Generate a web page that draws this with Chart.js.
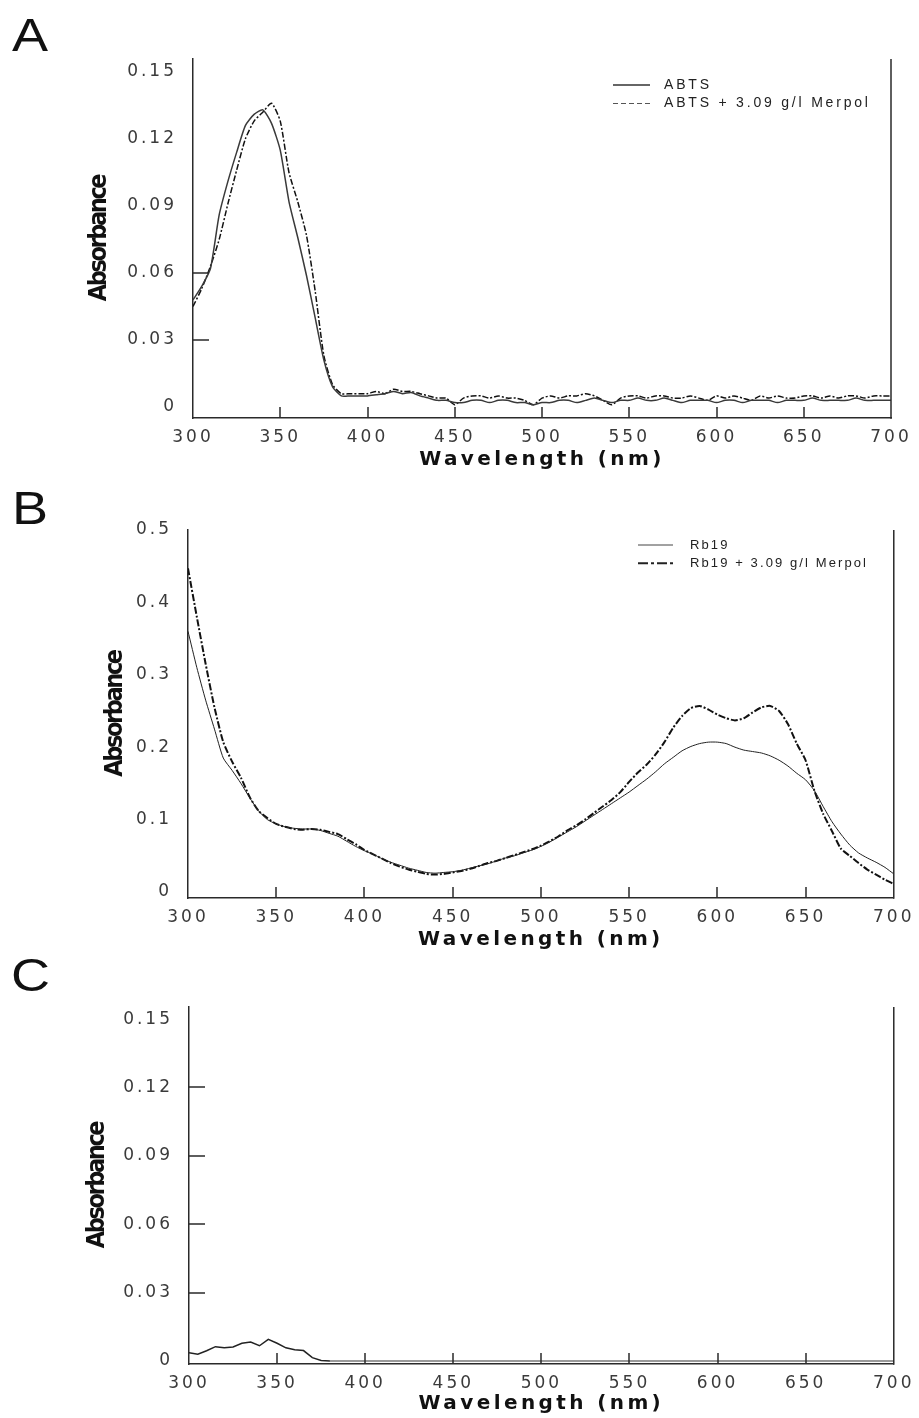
<!DOCTYPE html>
<html>
<head>
<meta charset="utf-8">
<script src="https://cdn.jsdelivr.net/npm/chart.js@4.4.1/dist/chart.umd.min.js"></script>
<style>
html,body{margin:0;padding:0;background:#fff;width:919px;height:1418px;overflow:hidden;}
canvas.panel{position:absolute;left:0;}
.letter{position:absolute;font-family:'Liberation Sans',Arial,sans-serif;font-size:47px;color:#111;line-height:47px;transform:scaleX(1.15);transform-origin:left top;}
</style>
</head>
<body>
<div class="letter" style="left:12px;top:11px">A</div>
<div class="letter" style="left:12px;top:484px">B</div>
<div class="letter" style="left:11px;top:951px">C</div>
<canvas id="cA" class="panel" width="919" height="480" style="top:0px;width:919px;height:480px"></canvas>
<canvas id="cB" class="panel" width="919" height="480" style="top:480px;width:919px;height:480px"></canvas>
<canvas id="cC" class="panel" width="919" height="458" style="top:960px;width:919px;height:458px"></canvas>
<script>
// ---------------- DATA ----------------
const wavelengths = [
  300,305,310,315,320,325,330,335,340,345,
  350,355,360,365,370,375,380,385,390,395,
  400,405,410,415,420,425,430,435,440,445,
  450,455,460,465,470,475,480,485,490,495,
  500,505,510,515,520,525,530,535,540,545,
  550,555,560,565,570,575,580,585,590,595,
  600,605,610,615,620,625,630,635,640,645,
  650,655,660,665,670,675,680,685,690,695,
  700
];

// Panel A
const absABTS = [
  0.048,0.054,0.062,0.086,0.101,0.114,0.126,0.131,0.133,0.127,
  0.115,0.092,0.076,0.059,0.040,0.021,0.009,0.005,0.005,0.005,
  0.005,0.0055,0.006,0.007,0.006,0.0065,0.005,0.004,0.003,0.003,
  0.002,0.002,0.003,0.003,0.002,0.003,0.003,0.002,0.002,0.001,
  0.002,0.002,0.003,0.003,0.002,0.003,0.004,0.003,0.002,0.003,
  0.003,0.004,0.003,0.003,0.004,0.003,0.002,0.003,0.003,0.003,
  0.002,0.003,0.003,0.002,0.003,0.003,0.003,0.002,0.003,0.003,
  0.003,0.004,0.003,0.003,0.003,0.003,0.004,0.003,0.003,0.003,
  0.003
];
const absABTSMerpol = [
  0.045,0.053,0.063,0.075,0.091,0.106,0.120,0.128,0.132,0.136,
  0.128,0.105,0.092,0.077,0.052,0.023,0.010,0.006,0.006,0.006,
  0.006,0.007,0.006,0.008,0.007,0.007,0.006,0.005,0.004,0.004,
  0.001,0.004,0.005,0.005,0.004,0.005,0.004,0.004,0.003,0.001,
  0.004,0.005,0.004,0.005,0.005,0.006,0.005,0.003,0.001,0.004,
  0.005,0.005,0.004,0.005,0.005,0.004,0.004,0.005,0.004,0.003,
  0.005,0.004,0.005,0.004,0.003,0.005,0.004,0.005,0.004,0.004,
  0.005,0.005,0.004,0.005,0.004,0.005,0.005,0.004,0.005,0.005,
  0.005
];

// Panel B
const absRb19 = [
  0.360,0.310,0.265,0.225,0.185,0.168,0.150,0.130,0.112,0.100,
  0.094,0.090,0.088,0.087,0.087,0.085,0.081,0.077,0.070,0.063,
  0.057,0.052,0.046,0.041,0.037,0.033,0.030,0.027,0.026,0.027,
  0.028,0.030,0.033,0.036,0.039,0.043,0.047,0.050,0.054,0.058,
  0.063,0.069,0.076,0.083,0.090,0.098,0.106,0.114,0.122,0.130,
  0.138,0.147,0.156,0.166,0.177,0.186,0.195,0.201,0.205,0.207,
  0.207,0.205,0.200,0.196,0.194,0.192,0.188,0.182,0.174,0.164,
  0.155,0.140,0.118,0.097,0.080,0.065,0.054,0.047,0.041,0.034,
  0.025
];
const absRb19Merpol = [
  0.447,0.380,0.315,0.255,0.207,0.180,0.158,0.131,0.112,0.102,
  0.094,0.090,0.087,0.086,0.087,0.086,0.083,0.080,0.073,0.066,
  0.058,0.052,0.046,0.040,0.035,0.031,0.028,0.025,0.024,0.025,
  0.027,0.029,0.032,0.036,0.040,0.043,0.047,0.051,0.055,0.059,
  0.064,0.070,0.077,0.085,0.092,0.100,0.109,0.118,0.127,0.138,
  0.152,0.165,0.176,0.190,0.207,0.227,0.243,0.254,0.257,0.252,
  0.245,0.240,0.237,0.240,0.248,0.255,0.257,0.250,0.232,0.205,
  0.182,0.140,0.108,0.084,0.060,0.050,0.040,0.031,0.024,0.017,
  0.011
];

// Panel C
const wavelengthsC = [300,305,310,315,320,325,330,335,340,345,350,355,360,365,370,375,380,400,450,500,550,600,650,700];
const absC = [0.0036,0.0030,0.0045,0.0063,0.0058,0.0062,0.0078,0.0083,0.0067,0.0095,0.0078,0.0058,0.0050,0.0046,0.0015,0.0002,0,0,0,0,0,0,0,0];

// Ticks
const xTickValues = [300,350,400,450,500,550,600,650,700];
const xTickLabels = ['300','350','400','450','500','550','600','650','700'];
const yTickValuesAC = [0,0.03,0.06,0.09,0.12,0.15];
const yTickLabelsAC = ['0','0.03','0.06','0.09','0.12','0.15'];
const yTickValuesB = [0,0.1,0.2,0.3,0.4,0.5];
const yTickLabelsB = ['0','0.1','0.2','0.3','0.4','0.5'];

const labelABTS = 'ABTS';
const labelABTSMerpol = 'ABTS + 3.09 g/l Merpol';
const labelRb19 = 'Rb19';
const labelRb19Merpol = 'Rb19 + 3.09 g/l Merpol';
const xTitle = 'Wavelength (nm)';
const yTitle = 'Absorbance';

// ---------------- RENDERING ----------------
Chart.defaults.animation = false;

function pts(xs, ys) { return xs.map((x, i) => ({x: x, y: ys[i]})); }

function patchSpacing(scale, tickSp, titleSp) {
  if (scale.$patched) return;
  scale.$patched = true;
  const dl = scale.drawLabels, dt = scale.drawTitle;
  scale.drawLabels = function (a) { const c = this.ctx; c.save(); c.letterSpacing = tickSp; dl.call(this, a); c.restore(); };
  scale.drawTitle = function (a) { const c = this.ctx; c.save(); c.letterSpacing = titleSp; dt.call(this, a); c.restore(); };
}

const framePlugin = {
  id: 'frame',
  afterDraw(chart, args, o) {
    const ctx = chart.ctx, a = chart.chartArea;
    const xs = chart.scales.x, ys = chart.scales.y;
    ctx.save();
    ctx.lineCap = 'butt';
    ctx.strokeStyle = '#2a2a2a';
    ctx.lineWidth = 1.5;
    ctx.beginPath();
    ctx.moveTo(a.right, a.top); ctx.lineTo(a.right, a.bottom + 0.75);
    ctx.stroke();
    ctx.beginPath();
    (o.xMarks || []).forEach(v => {
      const p = Math.round(xs.getPixelForValue(v));
      ctx.moveTo(p, a.bottom); ctx.lineTo(p, a.bottom - o.xMarkLen);
    });
    (o.yMarks || []).forEach(v => {
      const p = Math.round(ys.getPixelForValue(v));
      ctx.moveTo(a.left, p); ctx.lineTo(a.left + o.yMarkLen, p);
    });
    ctx.stroke();
    if (o.legend) {
      const L = o.legend;
      chart.data.datasets.forEach((ds, i) => {
        if (!ds.label) return;
        const y = L.y + i * L.rowH;
        ctx.beginPath();
        ctx.setLineDash(ds.legendDash || ds.borderDash || []);
        ctx.strokeStyle = ds.legendColor || ds.borderColor;
        ctx.lineWidth = ds.legendWidth || ds.borderWidth;
        ctx.moveTo(L.x0, y); ctx.lineTo(L.x1, y);
        ctx.stroke();
        ctx.setLineDash([]);
        ctx.font = L.font;
        ctx.fillStyle = '#222';
        ctx.textBaseline = 'middle';
        ctx.textAlign = 'left';
        ctx.letterSpacing = L.spacing;
        ctx.fillText(ds.label, L.tx, y);
        ctx.letterSpacing = '0px';
      });
    }
    ctx.restore();
  }
};

function makeChart(id, p) {
  return new Chart(document.getElementById(id), {
    type: 'line',
    data: {datasets: p.datasets},
    plugins: [framePlugin],
    options: {
      responsive: false,
      devicePixelRatio: 1,
      animation: false,
      layout: {padding: {left: 0, top: p.top, right: p.right, bottom: 0}},
      elements: {point: {radius: 0}, line: {tension: p.tension}},
      plugins: {
        legend: {display: false},
        tooltip: {enabled: false},
        frame: {xMarks: p.xMarks, yMarks: p.yMarks, xMarkLen: 11, yMarkLen: 16, legend: p.legend}
      },
      scales: {
        x: {
          type: 'linear', min: 300, max: 700,
          afterBuildTicks: s => { s.ticks = xTickValues.map(v => ({value: v})); },
          afterFit: s => { s.height = p.xH; patchSpacing(s, '3px', '3.4px'); },
          grid: {display: false, drawTicks: false},
          border: {display: true, color: '#2a2a2a', width: 1.5},
          ticks: {autoSkip: false, maxRotation: 0, padding: 9, color: '#3a3a3a',
                  font: {family: 'DejaVu Sans', size: 17},
                  callback: (v, i) => xTickLabels[i]},
          title: {display: true, text: xTitle, color: '#111',
                  font: {family: 'DejaVu Sans', size: 20, weight: 'bold'},
                  padding: {top: 0, bottom: p.xTitlePad}}
        },
        y: {
          type: 'linear', min: p.yMin, max: p.yMax,
          afterBuildTicks: s => { s.ticks = p.yTicks.map(v => ({value: v})); },
          afterFit: s => { s.width = p.left; patchSpacing(s, '3px', '-2.4px'); },
          grid: {display: false, drawTicks: false},
          border: {display: true, color: '#2a2a2a', width: 1.5},
          ticks: {autoSkip: false, padding: 16, color: '#3a3a3a',
                  font: {family: 'DejaVu Sans', size: 17},
                  callback: (v, i) => p.yLabels[i]},
          title: {display: true, text: yTitle, color: '#111',
                  font: {family: "'Liberation Sans Narrow', 'DejaVu Sans Condensed', sans-serif", size: 25, weight: 'bold'},
                  padding: {top: p.yTitlePad, bottom: 0}}
        }
      }
    }
  });
}

const xMarks = [350, 400, 450, 500, 550, 600, 650];

makeChart('cA', {
  top: 59, right: 28, left: 193, xH: 62, xTitlePad: 8, yTitlePad: 84,
  yMin: -0.0049, yMax: 0.1558, yTicks: yTickValuesAC, yLabels: yTickLabelsAC,
  xMarks: xMarks, yMarks: [0.03, 0.06], tension: 0.2,
  legend: {x0: 613, x1: 650, tx: 664, y: 85, rowH: 18.5, font: '14px "Liberation Sans", Arial, sans-serif', spacing: '2.8px'},
  datasets: [
    {label: labelABTS, data: pts(wavelengths, absABTS), borderColor: '#3a3a3a', borderWidth: 1.5,
     legendColor: '#666', legendWidth: 2},
    {label: labelABTSMerpol, data: pts(wavelengths, absABTSMerpol), borderColor: '#111', borderWidth: 1.5,
     borderDash: [6, 2, 2, 2], legendColor: '#555', legendWidth: 1, legendDash: [5, 3]}
  ]
});

makeChart('cB', {
  top: 50, right: 25, left: 188, xH: 62, xTitlePad: 8, yTitlePad: 100,
  yMin: -0.0083, yMax: 0.5, yTicks: yTickValuesB, yLabels: yTickLabelsB,
  xMarks: xMarks, yMarks: [], tension: 0.2,
  legend: {x0: 638, x1: 673, tx: 690, y: 65, rowH: 18.3, font: '13px "Liberation Sans", Arial, sans-serif', spacing: '2.1px'},
  datasets: [
    {label: labelRb19, data: pts(wavelengths, absRb19), borderColor: '#222', borderWidth: 1,
     legendColor: '#444', legendWidth: 1},
    {label: labelRb19Merpol, data: pts(wavelengths, absRb19Merpol), borderColor: '#111', borderWidth: 2,
     borderDash: [7, 2, 2, 2], legendColor: '#222', legendWidth: 2, legendDash: [10, 3, 3, 3]}
  ]
});

makeChart('cC', {
  top: 47, right: 22, left: 189, xH: 54, xTitlePad: 2, yTitlePad: 82,
  yMin: -0.0013, yMax: 0.1553, yTicks: yTickValuesAC, yLabels: yTickLabelsAC,
  xMarks: xMarks, yMarks: [0.03, 0.06, 0.09, 0.12], tension: 0,
  legend: null,
  datasets: [
    {label: '', data: pts(wavelengthsC, absC), borderColor: '#222', borderWidth: 1.5,
     segment: {
       borderColor: c => (c.p0.parsed.y === 0 && c.p1.parsed.y === 0) ? '#9a9a9a' : undefined,
       borderWidth: c => (c.p0.parsed.y === 0 && c.p1.parsed.y === 0) ? 2 : undefined
     }}
  ]
});
</script>
</body>
</html>
